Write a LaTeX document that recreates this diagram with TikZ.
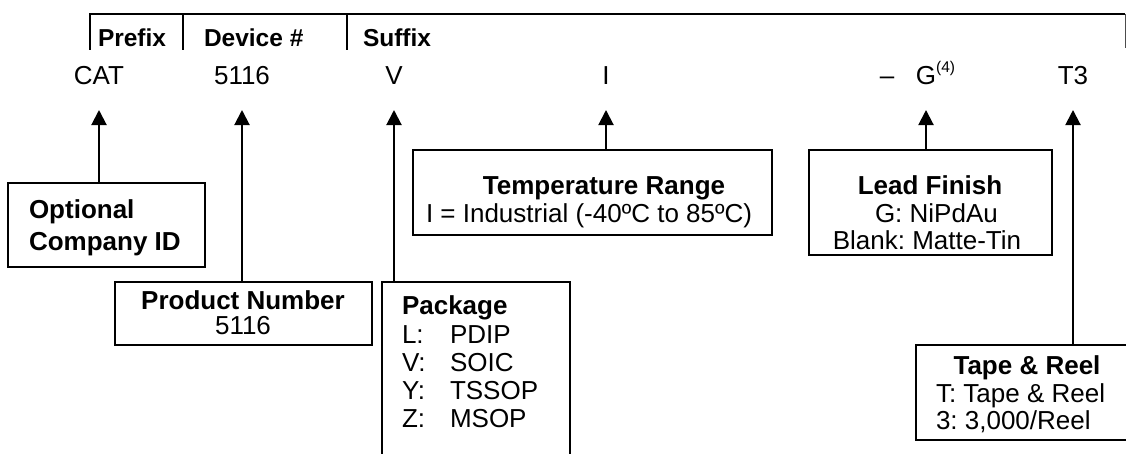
\documentclass[tikz,border=0pt]{standalone}
\usepackage{fontspec}
\setmainfont{Liberation Sans}
\usetikzlibrary{arrows.meta}
\begin{document}
\frenchspacing
\begin{tikzpicture}[x=1pt,y=-1pt,
  every node/.style={inner sep=0pt, outer sep=0pt, font=\fontsize{26}{26}\selectfont},
  txt/.style={anchor=base},
  txtl/.style={anchor=base west},
  bold/.style={font=\fontsize{26}{26}\selectfont\bfseries},
  hdr/.style={anchor=base west, font=\fontsize{24.5}{24.5}\selectfont\bfseries},
  box/.style={draw, line width=2.5pt, anchor=north west},
  arr/.style={-{Triangle[length=15pt,width=15pt]}, line width=2pt},
  frame/.style={line width=2.5pt},
]
\useasboundingbox (0,0) rectangle (1126,453);

% header
\draw[frame] (89,14) -- (1125,14);
\draw[line width=2pt] (90,14) -- (90,50);
\draw[line width=2pt] (183,14) -- (183,50);
\draw[line width=2pt] (347,14) -- (347,50);
\draw[line width=1pt, black!70] (1125,14) -- (1125,48);
\node[hdr] (hpre) at (98,46) {Prefix};
\node[hdr] (hdev) at (204,46) {Device \#};
\node[hdr] (hsuf) at (363,46) {Suffix};

% code row
\coordinate (tipy) at (0,110);
\node[txt] (cat) at (99,84) {CAT};
\node[txt] (dev) at (242,84) {5116};
\node[txt] (pkc) at (394,84) {V};
\node[txt] (tmc) at (606,84) {I};
\node[txt] (dash) at (887,84) {–};
\node[txt] (ldc) at (926,84) {G};
\node[anchor=base west, font=\fontsize{15.5}{15.5}\selectfont] (g4) at ([yshift=12pt]ldc.base east) {(4)};
\node[txt] (trc) at (1073,84) {T3};

% boxes
\node[box, minimum width=197pt, minimum height=84pt] (optbox) at (8,183) {};
\node[box, minimum width=257pt, minimum height=63pt] (prodbox) at (115,282) {};
\node[box, minimum width=188pt, minimum height=200pt] (pkgbox) at (382,282) {};
\node[box, minimum width=359pt, minimum height=85pt] (tmpbox) at (413,150) {};
\node[box, minimum width=243pt, minimum height=105pt] (leadbox) at (809,150) {};
\node[box, minimum width=225pt, minimum height=95pt] (tapebox) at (916,345) {};

% box texts
\node[txtl, bold] (opt1) at (29,218) {Optional};
\node[txtl, bold] (opt2) at (29,250) {Company ID};

\node[txt, bold] (prod1) at (243,309) {Product Number};
\node[txt] (prod2) at (243,334) {5116};

\node[txtl, bold] (pk0) at (402,314) {Package};
\node[txtl] (pk1) at (402,343) {\makebox[48pt][l]{L:}PDIP};
\node[txtl] (pk2) at (402,371) {\makebox[48pt][l]{V:}SOIC};
\node[txtl] (pk3) at (402,399) {\makebox[48pt][l]{Y:}TSSOP};
\node[txtl] (pk4) at (402,427) {\makebox[48pt][l]{Z:}MSOP};

\node[txt, bold] (tm1) at (604,194) {Temperature Range};
\node[txtl] (tm2) at (426,222) {I = Industrial (-40ºC to 85ºC)};

\node[txt, bold] (ld1) at (930,194) {Lead Finish};
\node[txtl] (ld2) at (875,222) {G: NiPdAu};
\node[txt] (ld3) at (927,249) {Blank: Matte-Tin};

\node[txt, bold] (tp1) at (1027,374) {Tape \& Reel};
\node[txtl] (tp2) at (936,402) {T: Tape \& Reel};
\node[txtl] (tp3) at (936,429) {3: 3,000/Reel};

% arrows
\draw[arr] (cat |- optbox.north) -- (cat |- tipy);
\draw[arr] (dev |- prodbox.north) -- (dev |- tipy);
\draw[arr] (pkc |- pkgbox.north) -- (pkc |- tipy);
\draw[arr] (tmc |- tmpbox.north) -- (tmc |- tipy);
\draw[arr] (ldc |- leadbox.north) -- (ldc |- tipy);
\draw[arr] (trc |- tapebox.north) -- (trc |- tipy);
\end{tikzpicture}
\end{document}
